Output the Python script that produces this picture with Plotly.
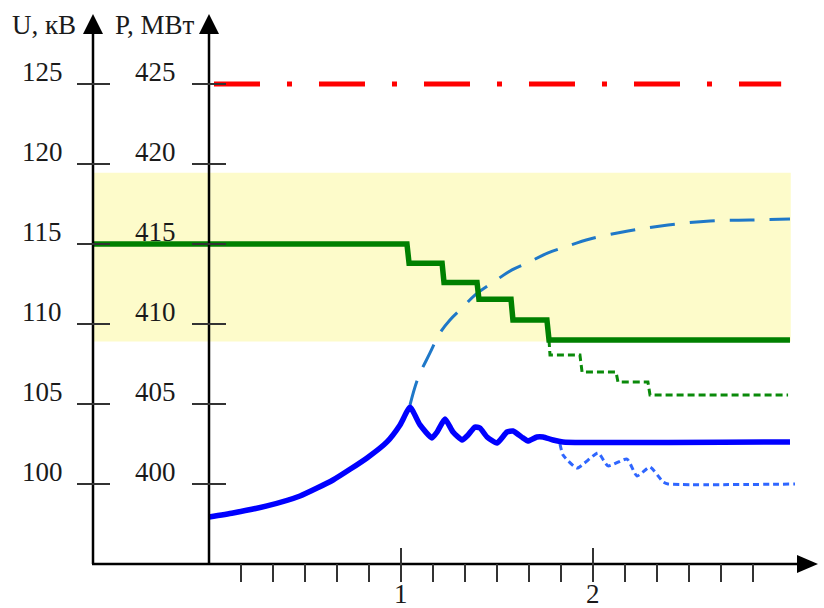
import plotly.graph_objects as go

# ---------------- data ----------------
u_ticks = [100, 105, 110, 115, 120, 125]          # kV
p_ticks = [400, 405, 410, 415, 420, 425]          # MW
t_major_ticks = [1, 2]                            # min
t_minor_ticks_s = [10, 20, 30, 40, 50, 70, 80, 90, 100, 110, 130, 140, 150, 160, 170]  # s

band_u = [108.9, 119.45]                          # allowed voltage band, kV
band_t = [-0.604, 3.03]

limit_t = [0.026, 2.98]
limit_p = [425, 425]

# green solid: P with stepwise reduction (MW)
p_t = [-0.604, 1.031, 1.042, 1.214, 1.224, 1.396, 1.406, 1.573, 1.583, 1.760, 1.771, 3.026]
p_val = [415.0, 415.0, 413.8, 413.8, 412.6, 412.6, 411.55, 411.55, 410.25, 410.25, 409.0, 409.0]

# green dotted: P continued reduction (MW)
p2_t = [1.771, 1.776, 1.932, 1.943, 2.120, 2.130, 2.286, 2.297, 3.016]
p2_val = [409.0, 408.06, 408.06, 407.0, 407.0, 406.38, 406.38, 405.56, 405.56]

# blue solid: U (kV)
u_t = [0.0, 0.125, 0.302, 0.474, 0.646, 0.823, 0.927, 0.995, 1.047,
       1.099, 1.161, 1.188, 1.229, 1.271, 1.318, 1.349, 1.385, 1.411,
       1.448, 1.500, 1.552, 1.583, 1.635, 1.661, 1.708, 1.740, 1.792,
       1.844, 3.026]
u_val = [97.94, 98.19, 98.63, 99.25, 100.25, 101.63, 102.63, 103.69, 104.80,
         103.69, 102.88, 103.25, 104.06, 103.25, 102.75, 103.06, 103.56, 103.5,
         102.94, 102.56, 103.25, 103.31, 102.88, 102.69, 102.94, 102.94, 102.75,
         102.63, 102.63]

# blue dotted: U continued (kV)
u2_t = [1.828, 1.844, 1.917, 2.026, 2.078, 2.177, 2.229, 2.297, 2.365, 2.391, 3.052]
u2_val = [102.5, 101.81, 101.0, 101.94, 101.13, 101.56, 100.5, 101.06, 100.13, 100.0, 100.0]

# light-blue dashed: U without control (kV)
u3_t = [1.047, 1.089, 1.151, 1.203, 1.255, 1.318, 1.385, 1.474, 1.578, 1.656,
        1.766, 1.854, 1.984, 2.182, 2.391, 2.609, 2.818, 3.026]
u3_val = [104.94, 106.63, 108.19, 109.44, 110.25, 111.0, 111.81, 112.56, 113.38, 113.81,
          114.44, 114.81, 115.31, 115.81, 116.19, 116.44, 116.5, 116.56]

# ---------------- layout geometry ----------------
W, H = 824, 608
X0_PX, PX_PER_MIN = 209, 192
Y125_PX, PX_PER_KV = 84, 16
P_OFFSET = 300  # P axis = U axis + 300


def tx(px):
    return (px - X0_PX) / PX_PER_MIN


def uy(py):
    return 125 - (py - Y125_PX) / PX_PER_KV


x_range = [tx(0), tx(W)]
y_range = [uy(H), uy(0)]
y2_range = [y_range[0] + P_OFFSET, y_range[1] + P_OFFSET]

FONT = "Liberation Serif, Times New Roman, serif"
TXT = "#1a1a1a"
FS = 27

fig = go.Figure()

fig.add_trace(go.Scatter(x=limit_t, y=limit_p, yaxis="y2", mode="lines",
                         line=dict(color="#ff0000", width=5, dash="46px,27px,5px,27px"),
                         hoverinfo="skip"))
fig.add_trace(go.Scatter(x=u3_t, y=u3_val, mode="lines", line_shape="spline",
                         line=dict(color="#1f78c8", width=3, dash="25px,15px"),
                         hoverinfo="skip"))
fig.add_trace(go.Scatter(x=p2_t, y=p2_val, yaxis="y2", mode="lines",
                         line=dict(color="#0a8a0a", width=3, dash="7px,4px"),
                         hoverinfo="skip"))
fig.add_trace(go.Scatter(x=u2_t, y=u2_val, mode="lines", line_shape="spline",
                         line=dict(color="#2f66ff", width=3, dash="6px,4px", smoothing=0.5),
                         hoverinfo="skip"))
fig.add_trace(go.Scatter(x=p_t, y=p_val, yaxis="y2", mode="lines",
                         line=dict(color="#008000", width=5.5),
                         hoverinfo="skip"))
fig.add_trace(go.Scatter(x=u_t, y=u_val, mode="lines", line_shape="spline",
                         line=dict(color="#0000ff", width=5.5, smoothing=0.5),
                         hoverinfo="skip"))

shapes = []
# allowed band
shapes.append(dict(type="rect", xref="x", yref="y", x0=band_t[0], x1=band_t[1],
                   y0=band_u[0], y1=band_u[1], fillcolor="#fdfbca",
                   line=dict(width=0), layer="below"))
AX = dict(color="#000000", width=2.5)
TK = dict(color="#333333", width=2)
axis_bottom = uy(564)
axis_top = uy(33)
# vertical axes
shapes.append(dict(type="line", xref="x", yref="y", x0=tx(93), x1=tx(93),
                   y0=axis_bottom, y1=axis_top, line=AX))
shapes.append(dict(type="line", xref="x", yref="y", x0=tx(209), x1=tx(209),
                   y0=axis_bottom, y1=axis_top, line=AX))
# horizontal axis
shapes.append(dict(type="line", xref="x", yref="y", x0=tx(92), x1=tx(800),
                   y0=axis_bottom, y1=axis_bottom, line=AX))
# arrowheads
for ax_px in (93, 209):
    shapes.append(dict(type="path", xref="x", yref="y",
                       path=f"M {tx(ax_px)},{uy(14)} L {tx(ax_px - 10)},{uy(34)} "
                            f"L {tx(ax_px + 10)},{uy(34)} Z",
                       fillcolor="#000000", line=dict(width=0)))
shapes.append(dict(type="path", xref="x", yref="y",
                   path=f"M {tx(818)},{axis_bottom} L {tx(797)},{uy(555)} "
                        f"L {tx(797)},{uy(573)} Z",
                   fillcolor="#000000", line=dict(width=0)))
# y ticks
for u in u_ticks:
    shapes.append(dict(type="line", xref="x", yref="y", x0=tx(77), x1=tx(110),
                       y0=u, y1=u, line=TK))
for p in p_ticks:
    shapes.append(dict(type="line", xref="x", yref="y2", x0=tx(192), x1=tx(226),
                       y0=p, y1=p, line=TK))
# x ticks
for s in t_minor_ticks_s:
    t = s / 60
    shapes.append(dict(type="line", xref="x", yref="y", x0=t, x1=t,
                       y0=axis_bottom, y1=uy(582), line=TK))
for t in t_major_ticks:
    shapes.append(dict(type="line", xref="x", yref="y", x0=t, x1=t,
                       y0=uy(548), y1=uy(582), line=TK))

annotations = []


def label(text, x, y, xanchor="center", yref="y"):
    annotations.append(dict(text=text, x=x, y=y, xref="x", yref=yref,
                            xanchor=xanchor, yanchor="middle", showarrow=False,
                            font=dict(family=FONT, size=FS, color=TXT)))


for u in u_ticks:
    label(str(u), tx(42), u + 12 / PX_PER_KV)
for p in p_ticks:
    label(str(p), tx(155), p + 12 / PX_PER_KV, yref="y2")
for t in t_major_ticks:
    label(str(t), t, uy(594))
label("U, кВ", tx(44), uy(25))
label("P, МВт", tx(155), uy(25))
label("t, мин", tx(825), uy(594), xanchor="right")

fig.update_layout(
    width=W, height=H,
    margin=dict(l=0, r=0, t=0, b=0),
    paper_bgcolor="white", plot_bgcolor="white",
    showlegend=False,
    xaxis=dict(range=x_range, visible=False, fixedrange=True),
    yaxis=dict(range=y_range, visible=False, fixedrange=True),
    yaxis2=dict(range=y2_range, visible=False, overlaying="y", fixedrange=True),
    shapes=shapes,
    annotations=annotations,
)

fig.write_html("out.html", config={"displayModeBar": False},
               post_script="document.body.style.margin='0';document.body.style.overflow='hidden';")
